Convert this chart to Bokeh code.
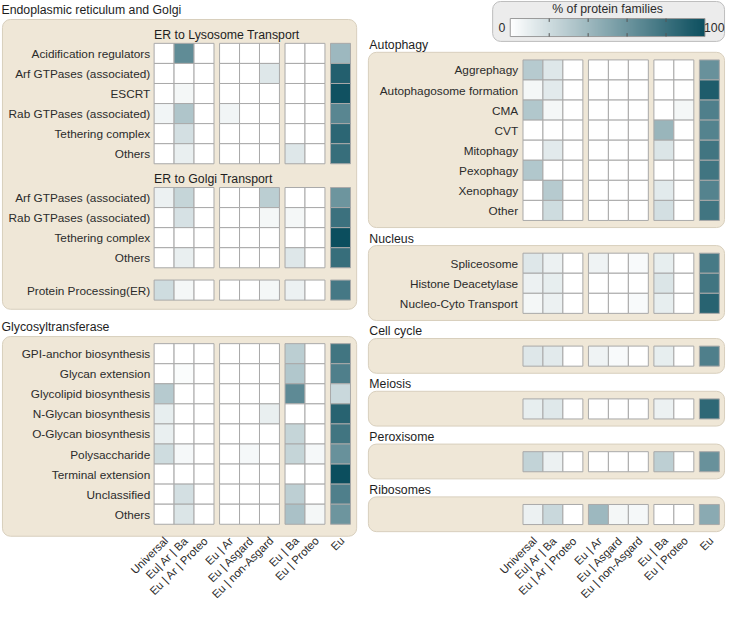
import numpy as np
from bokeh.plotting import figure
from bokeh.models import ColumnDataSource, Range1d, LinearColorMapper
from bokeh.transform import linear_cmap
from bokeh.core.properties import value
from bokeh.embed import file_html
from bokeh.resources import INLINE

# ---------------- data ----------------
columns = ["Universal", "Eu| Ar | Ba", "Eu | Ar | Proteo", "Eu | Ar", "Eu | Asgard",
           "Eu | non-Asgard", "Eu | Ba", "Eu | Proteo", "Eu"]
column_groups = [0, 0, 0, 1, 1, 1, 2, 2, 3]

er_lysosome_labels = ["Acidification regulators", "Arf GTPases (associated)", "ESCRT",
                      "Rab GTPases (associated)", "Tethering complex", "Others"]
er_lysosome_values = [
    [0, 65, 0, 0, 0, 0, 0, 0, 40],
    [0, 0, 0, 0, 0, 14, 0, 0, 90],
    [0, 5, 0, 0, 0, 0, 0, 0, 98],
    [6, 33, 0, 6, 0, 0, 0, 0, 68],
    [0, 18, 0, 0, 0, 0, 0, 0, 86],
    [0, 9, 0, 0, 0, 0, 14, 0, 82],
]
er_golgi_labels = ["Arf GTPases (associated)", "Rab GTPases (associated)",
                   "Tethering complex", "Others"]
er_golgi_values = [
    [8, 24, 0, 0, 0, 28, 0, 0, 60],
    [0, 17, 0, 0, 0, 5, 5, 0, 80],
    [0, 0, 0, 0, 0, 0, 0, 0, 100],
    [0, 9, 0, 0, 0, 0, 14, 0, 82],
]
protein_processing_labels = ["Protein Processing(ER)"]
protein_processing_values = [[20, 5, 0, 0, 0, 5, 8, 0, 76]]

glyco_labels = ["GPI-anchor biosynthesis", "Glycan extension", "Glycolipid biosynthesis",
                "N-Glycan biosynthesis", "O-Glycan biosynthesis", "Polysaccharide",
                "Terminal extension", "Unclassified", "Others"]
glyco_values = [
    [0, 0, 0, 0, 0, 0, 28, 0, 78],
    [0, 2, 0, 0, 0, 0, 32, 0, 72],
    [30, 0, 0, 0, 0, 0, 66, 0, 22],
    [10, 0, 0, 0, 0, 9, 0, 0, 88],
    [9, 0, 0, 0, 0, 0, 24, 0, 78],
    [20, 4, 0, 0, 4, 0, 24, 4, 62],
    [0, 0, 0, 0, 0, 0, 0, 0, 100],
    [0, 18, 0, 0, 0, 0, 27, 0, 72],
    [0, 15, 0, 0, 0, 0, 35, 5, 60],
]

autophagy_labels = ["Aggrephagy", "Autophagosome formation", "CMA", "CVT", "Mitophagy",
                    "Pexophagy", "Xenophagy", "Other"]
autophagy_values = [
    [30, 14, 0, 0, 0, 0, 0, 0, 62],
    [5, 12, 0, 0, 0, 0, 0, 0, 92],
    [32, 5, 0, 0, 0, 0, 0, 5, 72],
    [0, 0, 0, 0, 0, 0, 42, 0, 70],
    [0, 12, 0, 0, 0, 0, 15, 0, 78],
    [32, 0, 0, 0, 0, 0, 0, 0, 78],
    [0, 30, 0, 0, 0, 0, 12, 0, 70],
    [0, 20, 0, 0, 0, 0, 18, 0, 78],
]
nucleus_labels = ["Spliceosome", "Histone Deacetylase", "Nucleo-Cyto Transport"]
nucleus_values = [
    [14, 8, 0, 7, 0, 3, 10, 0, 75],
    [8, 10, 0, 0, 0, 0, 15, 0, 78],
    [5, 8, 0, 0, 0, 3, 10, 0, 88],
]
cell_cycle_values = [[14, 12, 0, 7, 3, 0, 10, 0, 72]]
meiosis_values = [[10, 13, 0, 0, 0, 0, 8, 0, 85]]
peroxisome_values = [[25, 8, 0, 0, 0, 0, 27, 0, 62]]
ribosome_values = [[8, 22, 0, 40, 5, 4, 0, 0, 48]]

colorbar_ticks = [20, 40, 60, 80]

# ---------------- style / layout ----------------
FONT = value("Liberation Sans")
FS = value("11.8px")
TXT = "#2b2b2b"
PANEL_FILL = "#efe7d7"
PANEL_LINE = "#d8cfbd"
CELL_LINE = "#a9a9a9"
W = 20.4      # cell width
H = 20.6      # cell height
GAP = 5.7     # gap between column groups

def col_offsets():
    offs, x, prev = [], 0.0, column_groups[0]
    for g in column_groups:
        if g != prev:
            x += GAP
            prev = g
        offs.append(x)
        x += W
    return offs

OFFS = col_offsets()

# palette: white -> dark teal
c0 = np.array([255, 255, 255]); c1 = np.array([11, 78, 94])
palette = ["#%02x%02x%02x" % tuple(int(round(v)) for v in c0 + (c1 - c0) * t)
           for t in np.linspace(0, 1, 256)]
mapper = LinearColorMapper(palette=palette, low=0, high=100)

p = figure(width=726, height=601, output_backend="svg", toolbar_location=None,
           x_range=Range1d(0, 742), y_range=Range1d(617, 0), min_border=0)
p.axis.visible = False
p.grid.visible = False
p.outline_line_color = None

cells = dict(left=[], right=[], top=[], bottom=[], v=[])
titles = dict(x=[], y=[], t=[])
rlabels = dict(x=[], y=[], t=[])
panels = dict(left=[], right=[], top=[], bottom=[])

def add_block(col0, label_x, row_top, row_labels, vals):
    for r, row in enumerate(vals):
        top = row_top + r * H
        for c, v in enumerate(row):
            cells["left"].append(col0 + OFFS[c]); cells["right"].append(col0 + OFFS[c] + W)
            cells["top"].append(top); cells["bottom"].append(top + H)
            cells["v"].append(v)
        if row_labels:
            rlabels["x"].append(label_x); rlabels["y"].append(top + H / 2 + 0.5)
            rlabels["t"].append(row_labels[r])

# left column
L_PANEL = (2, 364); L_COL0 = 157; L_LABX = 153
titles["x"].append(1); titles["y"].append(10); titles["t"].append("Endoplasmic reticulum and Golgi")
panels["left"].append(L_PANEL[0]); panels["right"].append(L_PANEL[1])
panels["top"].append(19.5); panels["bottom"].append(317)
titles["x"].append(L_COL0); titles["y"].append(35); titles["t"].append("ER to Lysosome Transport")
add_block(L_COL0, L_LABX, 44, er_lysosome_labels, er_lysosome_values)
titles["x"].append(L_COL0); titles["y"].append(183); titles["t"].append("ER to Golgi Transport")
add_block(L_COL0, L_LABX, 192, er_golgi_labels, er_golgi_values)
add_block(L_COL0, L_LABX, 287, protein_processing_labels, protein_processing_values)

titles["x"].append(1); titles["y"].append(335); titles["t"].append("Glycosyltransferase")
panels["left"].append(L_PANEL[0]); panels["right"].append(L_PANEL[1])
panels["top"].append(345); panels["bottom"].append(550)
add_block(L_COL0, L_LABX, 352.3, glyco_labels, glyco_values)

# right column
R_PANEL = (376, 740); R_COL0 = 534; R_LABX = 529
right_sections = [("Autophagy", autophagy_labels, autophagy_values),
                  ("Nucleus", nucleus_labels, nucleus_values),
                  ("Cell cycle", None, cell_cycle_values),
                  ("Meiosis", None, meiosis_values),
                  ("Peroxisome", None, peroxisome_values),
                  ("Ribosomes", None, ribosome_values)]
ty = 46
for name, rl, vals in right_sections:
    titles["x"].append(R_PANEL[0] + 1); titles["y"].append(ty); titles["t"].append(name)
    btop = ty + 7.2
    rtop = btop + 7.8
    add_block(R_COL0, R_LABX, rtop, rl, vals)
    bbot = rtop + len(vals) * H + 7.3
    panels["left"].append(R_PANEL[0]); panels["right"].append(R_PANEL[1])
    panels["top"].append(btop); panels["bottom"].append(bbot)
    ty = bbot + 11.3

# panels
try:
    p.quad(source=ColumnDataSource(panels), left="left", right="right", top="top", bottom="bottom",
           fill_color=PANEL_FILL, line_color=PANEL_LINE, line_width=1, border_radius=8)
except Exception:
    p.quad(source=ColumnDataSource(panels), left="left", right="right", top="top", bottom="bottom",
           fill_color=PANEL_FILL, line_color=PANEL_LINE, line_width=1)

# cells
p.quad(source=ColumnDataSource(cells), left="left", right="right", top="top", bottom="bottom",
       fill_color=linear_cmap("v", palette, 0, 100), line_color=CELL_LINE, line_width=1)

# text
p.text(source=ColumnDataSource(titles), x="x", y="y", text="t", text_align="left",
       text_baseline="middle", text_font=FONT, text_font_size=value("12.3px"), text_color="#1e1e1e")
p.text(source=ColumnDataSource(rlabels), x="x", y="y", text="t", text_align="right",
       text_baseline="middle", text_font=FONT, text_font_size=FS, text_color=TXT)

# rotated column labels
cx, cy, ct = [], [], []
for col0 in (L_COL0, R_COL0):
    for c, name in enumerate(columns):
        cx.append(col0 + OFFS[c] + W / 2 + 2.0); cy.append(552.5); ct.append(name)
p.text(x=cx, y=cy, text=ct, angle=np.pi / 4, text_align="right", text_baseline="middle",
       text_font=FONT, text_font_size=value("11.3px"), text_color=TXT)

# colorbar
CB = dict(x0=521, x1=720, y0=18.5, y1=37)
try:
    p.quad(left=[503], right=[740], top=[1], bottom=[42], fill_color="#ececec",
           line_color="#bdbdbd", border_radius=8)
except Exception:
    p.quad(left=[503], right=[740], top=[1], bottom=[42], fill_color="#ececec",
           line_color="#bdbdbd")
grad = np.linspace(0, 100, 256)[None, :]
p.image(image=[grad], x=CB["x0"], y=CB["y0"], dw=CB["x1"] - CB["x0"], dh=CB["y1"] - CB["y0"],
        color_mapper=mapper)
p.quad(left=[CB["x0"]], right=[CB["x1"]], top=[CB["y0"]], bottom=[CB["y1"]],
       fill_color=None, line_color="#9a9a9a", line_width=1)
tx = [CB["x0"] + (CB["x1"] - CB["x0"]) * t / 100 for t in colorbar_ticks]
p.segment(x0=tx, x1=tx, y0=[CB["y0"]] * 4, y1=[CB["y0"] + 3.5] * 4, line_color="#555555")
p.segment(x0=tx, x1=tx, y0=[CB["y1"] - 3.5] * 4, y1=[CB["y1"]] * 4, line_color="#555555")
p.text(x=[(CB["x0"] + CB["x1"]) / 2], y=[9], text=["% of protein families"], text_align="center",
       text_baseline="middle", text_font=FONT, text_font_size=value("12.3px"), text_color=TXT)
p.text(x=[CB["x0"] - 5, CB["x1"] - 1], y=[28, 28], text=["0", "100"], text_align=["right", "left"],
       text_baseline="middle", text_font=FONT, text_font_size=value("12.3px"), text_color=TXT)

open("out.html", "w").write(file_html(p, INLINE))
